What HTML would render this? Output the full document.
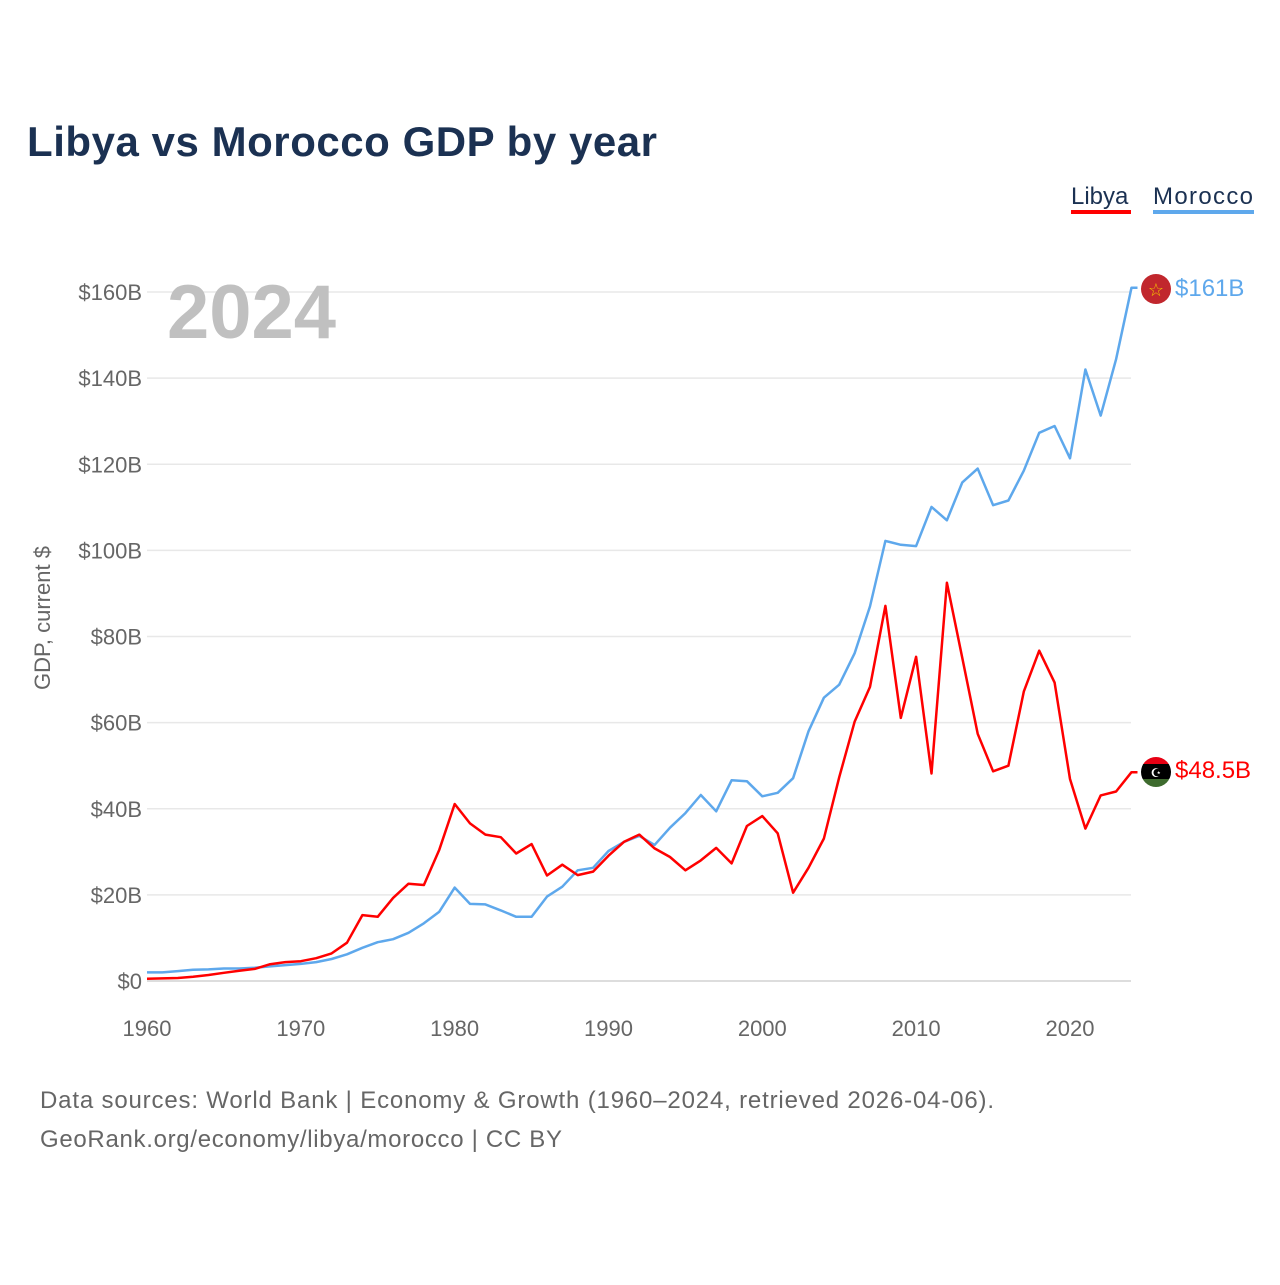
<!DOCTYPE html>
<html><head><meta charset="utf-8"><style>
body{margin:0;background:#fff;font-family:"Liberation Sans",sans-serif}
svg text{font-family:"Liberation Sans",sans-serif}
</style></head><body>
<svg id="chart" width="1280" height="1280" viewBox="0 0 1280 1280">
<text x="27" y="156" font-size="42" font-weight="bold" fill="#1b3152" textLength="630">Libya vs Morocco GDP by year</text>
<g>
<text x="1071" y="204" font-size="24" fill="#1b3152">Libya</text>
<rect x="1071" y="210" width="60" height="4" fill="#ff0000"/>
<text x="1153" y="204" font-size="24" fill="#1b3152" textLength="100">Morocco</text>
<rect x="1153" y="210" width="101" height="4" fill="#5ea8ec"/>
</g>
<g id="grid"></g>
<text x="167" y="338" font-size="76" font-weight="bold" fill="#c0c0c0">2024</text>
<text transform="translate(50,618) rotate(-90)" text-anchor="middle" font-size="22" fill="#666">GDP, current $</text>
<g id="series"></g>
<g>
<circle cx="1156" cy="289" r="15" fill="#c1272d"/>
<text x="1156" y="296" text-anchor="middle" font-size="18" fill="#f5c400">☆</text>
<text x="1175" y="296" font-size="24" fill="#5ea8ec">$161B</text>
</g>
<g>
<clipPath id="lc"><circle cx="1156" cy="772" r="15"/></clipPath>
<g clip-path="url(#lc)"><rect x="1140" y="757" width="32" height="8" fill="#e70013"/><rect x="1140" y="764" width="32" height="15" fill="#000"/><rect x="1140" y="779" width="32" height="9" fill="#3e6b2e"/></g>
<text x="1156" y="777" text-anchor="middle" font-size="12" fill="#fff">☪</text>
<text x="1175" y="778" font-size="24" fill="#ff0000">$48.5B</text>
</g>
<text x="40" y="1108" font-size="24" fill="#666" textLength="954">Data sources: World Bank | Economy &amp; Growth (1960–2024, retrieved 2026-04-06).</text>
<text x="40" y="1147" font-size="24" fill="#666" textLength="522">GeoRank.org/economy/libya/morocco | CC BY</text>
</svg>
<script>
const years=[];for(let y=1960;y<=2024;y++)years.push(y);
const libya=[0.5,0.6,0.7,1.0,1.4,1.9,2.4,2.8,3.9,4.4,4.6,5.3,6.4,8.9,15.3,14.9,19.3,22.6,22.3,30.5,41.1,36.6,34.0,33.4,29.6,31.8,24.5,27.0,24.6,25.4,29.1,32.3,34.0,30.8,28.8,25.7,28.0,30.9,27.3,36.0,38.3,34.3,20.5,26.3,33.1,47.3,60.2,68.3,87.1,61.1,75.3,48.2,92.5,75.0,57.4,48.7,50.0,67.2,76.7,69.3,46.9,35.4,43.1,44.0,48.5];
const morocco=[2.0,2.0,2.3,2.6,2.7,2.9,2.9,3.1,3.4,3.7,3.96,4.4,5.1,6.2,7.7,9.0,9.7,11.2,13.4,16.1,21.7,17.9,17.8,16.4,14.9,14.9,19.6,21.9,25.7,26.3,30.2,32.3,33.7,31.6,35.6,39.0,43.2,39.4,46.6,46.4,42.9,43.7,47.1,58.0,65.8,68.8,76.1,87.0,102.2,101.3,101.0,110.1,107.0,115.8,119.0,110.5,111.6,118.5,127.3,128.9,121.4,142.0,131.3,144.4,161.0];
const yTicks=[0,20,40,60,80,100,120,140,160];
const xTicks=[1960,1970,1980,1990,2000,2010,2020];
const X=y=>147+(y-1960)*15.383;
const Y=v=>981-v*4.306;
const NS="http://www.w3.org/2000/svg";
const grid=document.getElementById('grid');
yTicks.forEach(t=>{
 const l=document.createElementNS(NS,'line');
 l.setAttribute('x1',147);l.setAttribute('x2',1131);l.setAttribute('y1',Y(t));l.setAttribute('y2',Y(t));
 l.setAttribute('stroke',t===0?'#ddd':'#e8e8e8');l.setAttribute('stroke-width',t===0?2:1.5);
 
 
 grid.appendChild(l);
 const tx=document.createElementNS(NS,'text');
 tx.setAttribute('x',142);tx.setAttribute('y',Y(t)+8);tx.setAttribute('text-anchor','end');
 tx.setAttribute('font-size','22');tx.setAttribute('fill','#666');tx.textContent='$'+t+(t?'B':'');
 
 
 grid.appendChild(tx);
});
xTicks.forEach(t=>{
 const tx=document.createElementNS(NS,'text');
 tx.setAttribute('x',X(t));tx.setAttribute('y',1036);tx.setAttribute('text-anchor','middle');
 tx.setAttribute('font-size','22');tx.setAttribute('fill','#666');tx.textContent=t;
 
 
 grid.appendChild(tx);
});
const series=document.getElementById('series');
function draw(vals,color,name){
 let pts=vals.map((v,i)=>X(years[i]).toFixed(1)+','+Y(v).toFixed(1));
 pts.push((X(2024)+6).toFixed(1)+','+Y(vals[vals.length-1]).toFixed(1));
 const p=document.createElementNS(NS,'polyline');
 p.setAttribute('points',pts.join(' '));p.setAttribute('fill','none');
 p.setAttribute('stroke',color);p.setAttribute('stroke-width','2.5');p.setAttribute('stroke-linejoin','round');
 
 
 series.appendChild(p);
}
draw(morocco,'#5ea8ec','morocco-line');
draw(libya,'#ff0000','libya-line');
</script>
</body></html>
